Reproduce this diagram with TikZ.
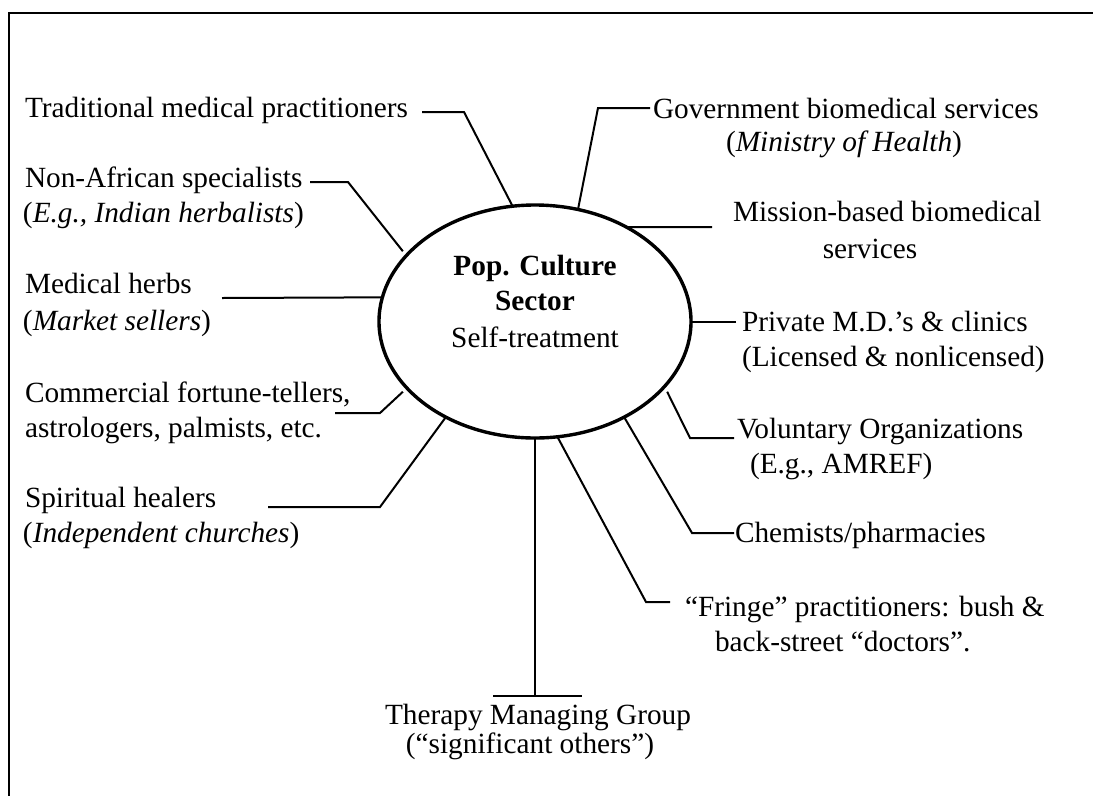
\documentclass[tikz,border=0pt]{standalone}
\usepackage{fontspec}
\setmainfont{Liberation Serif}
\usetikzlibrary{shapes.geometric,calc}
\begin{document}
\begin{tikzpicture}[x=1pt,y=-1pt,
  lbl/.style={inner sep=0pt, outer sep=0pt, font=\fontsize{29.3}{35}\selectfont},
  wire/.style={line width=2pt, line join=miter},
  frameline/.style={line width=2pt},
  hub/.style={ellipse, draw, line width=3.4pt, minimum width=312pt,
              minimum height=233pt, inner sep=0pt, outer sep=0pt}]
\useasboundingbox (0,0) rectangle (1093,796);

% open frame: top and left edges only
\draw[frameline] (1093,13) -- (9,13) -- (9,796);

% central sector
\node[hub] (hub) at (535,321.5) {};
\node[lbl, anchor=base] (hubA) at (535,275) {\bfseries Pop. Culture};
\node[lbl, anchor=base] (hubB) at (535,310) {\bfseries Sector};
\node[lbl, anchor=base] (hubC) at (535,347) {Self-treatment};

% left-hand labels
\node[lbl, anchor=base west] (trad)   at (25,117) {Traditional medical practitioners};
\node[lbl, anchor=base west] (nonaf)  at (25,187) {Non-African specialists};
\node[lbl, anchor=base west] (nonafB) at (23,222) {(\textit{E.g., Indian herbalists})};
\node[lbl, anchor=base west] (herbs)  at (25,293) {Medical herbs};
\node[lbl, anchor=base west] (herbsB) at (23,330) {(\textit{Market sellers})};
\node[lbl, anchor=base west] (comm)   at (25,402) {Commercial fortune-tellers,};
\node[lbl, anchor=base west] (commB)  at (25,437) {astrologers, palmists, etc.};
\node[lbl, anchor=base west] (spir)   at (25,507) {Spiritual healers};
\node[lbl, anchor=base west] (spirB)  at (23,542) {(\textit{Independent churches})};

% right-hand labels
\node[lbl, anchor=base west] (gov)    at (653,118) {Government biomedical services};
\node[lbl, anchor=base]      (govB)   at (844,151) {(\textit{Ministry of Health})};
\node[lbl, anchor=base west] (miss)   at (733,221) {Mission-based biomedical};
\node[lbl, anchor=base]      (missB)  at (870,258) {services};
\node[lbl, anchor=base west] (priv)   at (742,331) {Private M.D.’s \& clinics};
\node[lbl, anchor=base west] (privB)  at (742,366) {(Licensed \& nonlicensed)};
\node[lbl, anchor=base west] (vol)    at (737,438) {Voluntary Organizations};
\node[lbl, anchor=base west] (volB)   at (750,473) {(E.g., AMREF)};
\node[lbl, anchor=base west] (chem)   at (735,542) {Chemists/pharmacies};
\node[lbl, anchor=base west] (fringe) at (685,616) {“Fringe” practitioners: bush \&};
\node[lbl, anchor=base west] (fringeB) at (715,651) {back-street “doctors”.};

% bottom label
\node[lbl, anchor=base] (tmg)  at (538,724) {Therapy Managing Group};
\node[lbl, anchor=base] (tmgB) at (530,753) {(“significant others”)};

% connector bends and free ends
\coordinate (tradA) at (422,112);  \coordinate (tradK) at (464,112);
\coordinate (nonafA) at (310,182); \coordinate (nonafK) at (348,182);
\coordinate (herbsA) at (222,298);
\coordinate (commA) at (335,413);  \coordinate (commK) at (380,413);
\coordinate (spirA) at (268,507);  \coordinate (spirK) at (380,507);
\coordinate (govA) at (650,108);   \coordinate (govK) at (598,108);
\coordinate (missA) at (712,227);
\coordinate (privA) at (736,321.5);
\coordinate (volA) at (734,438);   \coordinate (volK) at (690,438);
\coordinate (chemA) at (734,533);  \coordinate (chemK) at (692,533);
\coordinate (fringeA) at (670,602); \coordinate (fringeK) at (646,602);
\coordinate (tmgK) at (535,696);
\coordinate (barL) at (493,696);   \coordinate (barR) at (582,696);

% connectors to the sector
\draw[wire] (tradA) -- (tradK) -- (hub.101.2);
\draw[wire] (nonafA) -- (nonafK) -- ($(hub.center)!1.04!(hub.152.4)$);
\draw[wire] (herbsA) -- (hub.171.3);
\draw[wire] (commA) -- (commK) -- ($(hub.center)!1.04!(hub.208.1)$);
\draw[wire] (spirA) -- (spirK) -- (hub.227.3);
\draw[wire] (govA) -- (govK) -- (hub.69.6);
\draw[wire] (missA) -- (hub.46);
\draw[wire] (privA) -- (hub.0);
\draw[wire] (volA) -- (volK) -- ($(hub.center)!1.04!(hub.332.4)$);
\draw[wire] (chemA) -- (chemK) -- (hub.313);
\draw[wire] (fringeA) -- (fringeK) -- (hub.281.5);
\draw[wire] (hub.270) -- (tmgK);
\draw[wire] (barL) -- (barR);
\end{tikzpicture}
\end{document}
